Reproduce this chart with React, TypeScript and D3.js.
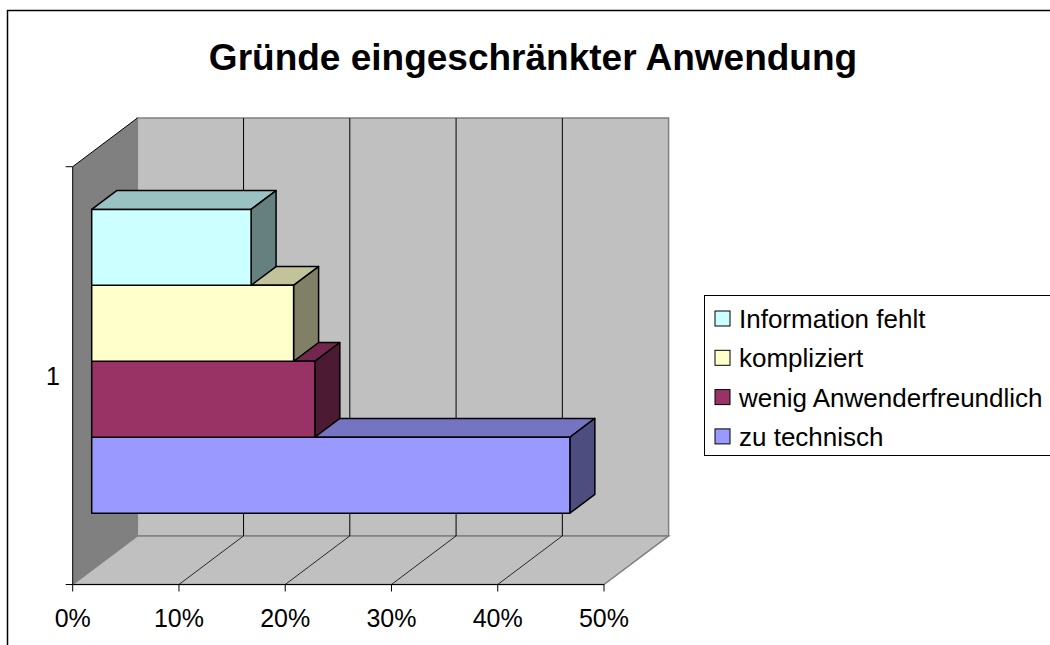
import * as d3 from "d3"

// chart data
const categories = ["1"]
const seriesNames = ["zu technisch", "wenig Anwenderfreundlich", "kompliziert", "Information fehlt"]
const seriesValues = [0.45, 0.21, 0.19, 0.15]
const seriesColors = ["#9999FF", "#993366", "#FFFFCC", "#CCFFFF"]
const xTicks = [0, 0.1, 0.2, 0.3, 0.4, 0.5]
const legendOrder = ["Information fehlt", "kompliziert", "wenig Anwenderfreundlich", "zu technisch"]

const W = 1050
const H = 645
const FONT = "'Liberation Sans', Arial, sans-serif"

// 3d depth offset of back wall (oblique projection)
const DX = 64.6
const DY = -48.6
const BAR_FRONT = 0.294
const BAR_BACK = 0.681

const x = d3.scaleLinear().domain([0, 0.5]).range([72.7, 604])
const yCat = d3.scaleBand().domain(categories).range([166.7, 584.5])
const ySeries = d3
  .scaleBand<string>()
  .domain(legendOrder)
  .range([0, yCat.bandwidth()])
  .paddingInner(0)
  .paddingOuter(0.75)

const yTop = yCat.range()[0]
const yBot = yCat.range()[1]

const P = (v: number, y: number, d: number): [number, number] => [x(v) + d * DX, y + d * DY]
const poly = (pts: [number, number][]) => pts.map((p) => p.join(",")).join(" ")

const shade = (c: string, k: number) => {
  const rgb = d3.rgb(c)
  return d3.rgb(rgb.r * k, rgb.g * k, rgb.b * k).formatHex()
}

const App = () => {
  const bandTop = yCat("1")!
  const bars = seriesNames.map((name, i) => {
    const y0 = bandTop + ySeries(name)!
    const y1 = y0 + ySeries.bandwidth()
    return { name, value: seriesValues[i], color: seriesColors[i], y0, y1 }
  })

  return (
    <svg
      width={W}
      height={H}
      style={{ position: "absolute", left: 0, top: 0, background: "#fff" }}
      fontFamily={FONT}
    >
      {/* outer chart border */}
      <rect x={7.5} y={10.5} width={W + 20} height={H + 20} fill="white" stroke="#000" strokeWidth={1.5} />

      <text x={533} y={70} textAnchor="middle" fontSize={37} fontWeight="bold">
        Gründe eingeschränkter Anwendung
      </text>

      {/* side wall */}
      <polygon
        points={poly([P(0, yTop, 0), P(0, yTop, 1), P(0, yBot, 1), P(0, yBot, 0)])}
        fill="#808080"
      />
      {/* back wall */}
      <polygon
        points={poly([P(0, yTop, 1), P(0.5, yTop, 1), P(0.5, yBot, 1), P(0, yBot, 1)])}
        fill="#C0C0C0"
        stroke="#808080"
        strokeWidth={1.5}
      />
      {/* floor */}
      <polygon
        points={poly([P(0, yBot, 0), P(0.5, yBot, 0), P(0.5, yBot, 1), P(0, yBot, 1)])}
        fill="#C0C0C0"
        stroke="#808080"
        strokeWidth={1.5}
      />

      {/* grid lines on back wall and floor */}
      {xTicks.slice(1, -1).map((t) => (
        <g key={t}>
          <line
            x1={P(t, yBot, 1)[0]}
            y1={P(t, yBot, 1)[1]}
            x2={P(t, yTop, 1)[0]}
            y2={P(t, yTop, 1)[1]}
            stroke="#000"
            strokeWidth={1}
          />
          <line
            x1={P(t, yBot, 0)[0]}
            y1={P(t, yBot, 0)[1]}
            x2={P(t, yBot, 1)[0]}
            y2={P(t, yBot, 1)[1]}
            stroke="#000"
            strokeWidth={0.8}
          />
        </g>
      ))}

      {/* side wall top edge */}
      <line
        x1={P(0, yTop, 0)[0]}
        y1={P(0, yTop, 0)[1]}
        x2={P(0, yTop, 1)[0]}
        y2={P(0, yTop, 1)[1]}
        stroke="#000"
        strokeWidth={1}
      />

      {/* bars, bottom one first */}
      {bars.map((b) => (
        <g key={b.name} stroke="#000" strokeWidth={1.5} strokeLinejoin="round">
          <polygon
            points={poly([P(0, b.y0, BAR_FRONT), P(b.value, b.y0, BAR_FRONT), P(b.value, b.y0, BAR_BACK), P(0, b.y0, BAR_BACK)])}
            fill={shade(b.color, 0.76)}
          />
          <polygon
            points={poly([P(b.value, b.y0, BAR_FRONT), P(b.value, b.y1, BAR_FRONT), P(b.value, b.y1, BAR_BACK), P(b.value, b.y0, BAR_BACK)])}
            fill={shade(b.color, 0.5)}
          />
          <polygon
            points={poly([P(0, b.y0, BAR_FRONT), P(b.value, b.y0, BAR_FRONT), P(b.value, b.y1, BAR_FRONT), P(0, b.y1, BAR_FRONT)])}
            fill={b.color}
          />
        </g>
      ))}

      {/* value axis */}
      <line x1={x(0)} y1={yBot} x2={x(0.5)} y2={yBot} stroke="#000" strokeWidth={1} />
      {xTicks.map((t) => (
        <g key={t}>
          <line x1={x(t)} y1={yBot} x2={x(t)} y2={yBot + 7} stroke="#000" strokeWidth={1} />
          <text x={x(t)} y={627} textAnchor="middle" fontSize={25}>
            {d3.format(".0%")(t)}
          </text>
        </g>
      ))}

      {/* category axis */}
      <line x1={x(0)} y1={yTop} x2={x(0)} y2={yBot} stroke="#000" strokeWidth={1} />
      {[yTop, yBot].map((y) => (
        <line key={y} x1={x(0) - 7} y1={y} x2={x(0)} y2={y} stroke="#000" strokeWidth={1} />
      ))}
      {categories.map((c) => (
        <text key={c} x={53} y={(yTop + yBot) / 2 + 9} textAnchor="middle" fontSize={25}>
          {c}
        </text>
      ))}

      {/* legend */}
      <rect x={704.5} y={295.5} width={400} height={160} fill="white" stroke="#000" strokeWidth={1} />
      {legendOrder.map((name, i) => {
        const cy = 319 + i * 39.3
        const color = seriesColors[seriesNames.indexOf(name)]
        return (
          <g key={name}>
            <rect x={715} y={cy - 8} width={15} height={15} fill={color} stroke="#000" strokeWidth={1} />
            <text x={739} y={cy + 9} fontSize={26}>
              {name}
            </text>
          </g>
        )
      })}
    </svg>
  )
}

export default App
